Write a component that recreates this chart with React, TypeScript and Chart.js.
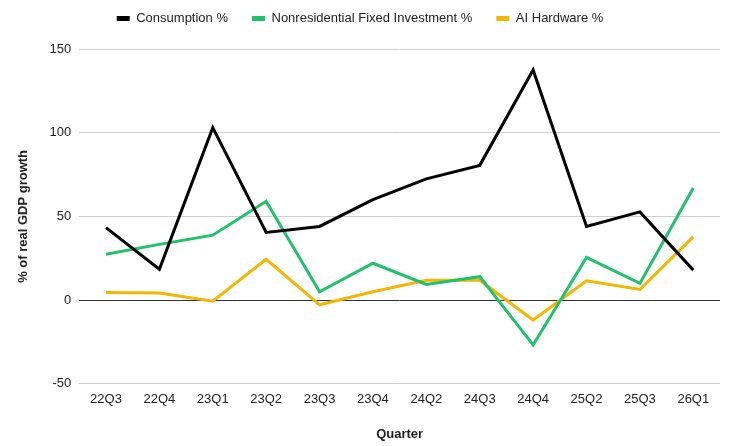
import React, { useEffect, useRef } from "react";
import Chart from "chart.js/auto";
import type { ChartConfiguration, Plugin } from "chart.js";

const quarters = ["22Q3", "22Q4", "23Q1", "23Q2", "23Q3", "23Q4", "24Q2", "24Q3", "24Q4", "25Q2", "25Q3", "26Q1"];
const consumption = [43.3, 18.4, 103, 40.4, 44, 60, 72.4, 80.5, 137.5, 44, 52.7, 17.9];
const nonresidential = [27.4, 33.3, 38.8, 59, 5, 22, 9.4, 14, -26.8, 25.5, 10, 67];
const aiHardware = [4.6, 4.2, -0.7, 24.4, -2.8, 5, 11.9, 11.9, -11.9, 11.5, 6.4, 37.8];

const FONT = "'Liberation Sans', Arial, sans-serif";

// pushes the plot area down a little below the legend
const legendGap: Plugin<"line"> = {
  id: "legendGap",
  beforeInit(chart) {
    const legend = chart.legend as any;
    if (!legend) return;
    const fit = legend.fit;
    legend.fit = function () {
      fit.call(this);
      this.height += 14;
    };
  },
};

const App: React.FC = () => {
  const canvasRef = useRef<HTMLCanvasElement | null>(null);

  useEffect(() => {
    const canvas = canvasRef.current;
    if (!canvas) return;

    const config: ChartConfiguration<"line", number[], string> = {
      type: "line",
      data: {
        labels: quarters,
        datasets: [
          { label: "Consumption %", data: consumption, borderColor: "#000000", backgroundColor: "#000000" },
          { label: "Nonresidential Fixed Investment %", data: nonresidential, borderColor: "#1fc16b", backgroundColor: "#1fc16b" },
          { label: "AI Hardware %", data: aiHardware, borderColor: "#f2b705", backgroundColor: "#f2b705" },
        ],
      },
      options: {
        animation: false,
        responsive: true,
        maintainAspectRatio: false,
        layout: { padding: { top: -12, right: 10, left: 0, bottom: 4 } },
        elements: {
          line: { borderWidth: 3, tension: 0, borderJoinStyle: "miter" },
          point: { radius: 0, hoverRadius: 0 },
        },
        plugins: {
          legend: {
            position: "top",
            labels: {
              boxWidth: 13,
              boxHeight: 5,
              padding: 24,
              color: "#222",
              font: { family: FONT, size: 13 },
              generateLabels: (c) =>
                Chart.defaults.plugins.legend.labels
                  .generateLabels(c)
                  .map((item) => ({ ...item, lineWidth: 0 })),
            },
          },
          tooltip: { enabled: false },
        },
        scales: {
          x: {
            offset: true,
            grid: { display: false, drawTicks: false },
            border: { display: false },
            ticks: { color: "#222", padding: 8, font: { family: FONT, size: 13 }, maxRotation: 0 },
            title: {
              display: true,
              text: "Quarter",
              color: "#222",
              font: { family: FONT, size: 13, weight: "bold" },
              padding: { top: 11, bottom: 0 },
            },
          },
          y: {
            min: -50,
            max: 150,
            grid: {
              drawTicks: false,
              color: (ctx) => (ctx.tick && ctx.tick.value === 0 ? "#333333" : "#d0d0d0"),
              lineWidth: 1,
            },
            border: { display: false },
            ticks: { stepSize: 50, color: "#222", padding: 8, font: { family: FONT, size: 13 } },
            title: {
              display: true,
              text: "% of real GDP growth",
              color: "#222",
              font: { family: FONT, size: 13, weight: "bold" },
              padding: { top: 16, bottom: 10 },
            },
          },
        },
      },
      plugins: [legendGap],
    };

    const chart = new Chart(canvas, config);
    return () => {
      chart.destroy();
    };
  }, []);

  return (
    <div style={{ position: "fixed", left: 0, top: 0, width: 730, height: 446, background: "#fff" }}>
      <canvas ref={canvasRef}></canvas>
    </div>
  );
};

export default App;
